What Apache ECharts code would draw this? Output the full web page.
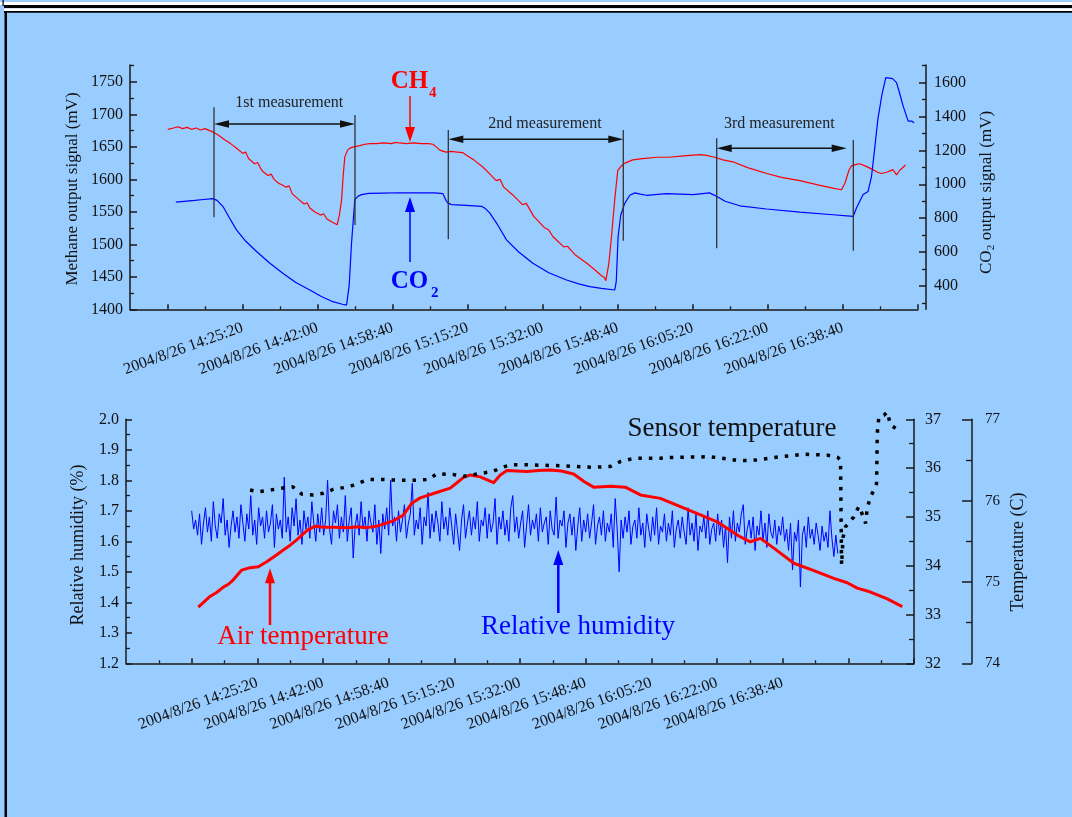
<!DOCTYPE html>
<html><head><meta charset="utf-8">
<script src="https://cdn.jsdelivr.net/npm/echarts@6/dist/echarts.min.js"></script>
<style>html,body{margin:0;padding:0;background:#99ccff;overflow:hidden}#c{width:1072px;height:817px}</style>
</head><body><div id="c"></div>
<script>
// ---------- DATA (time = seconds after 2004/8/26 14:00:00) ----------
const xTickSecs = [1520,2520,3520,4520,5520,6520,7520,8520,9520];
const xTickLabels = ['2004/8/26 14:25:20','2004/8/26 14:42:00','2004/8/26 14:58:40','2004/8/26 15:15:20','2004/8/26 15:32:00','2004/8/26 15:48:40','2004/8/26 16:05:20','2004/8/26 16:22:00','2004/8/26 16:38:40'];
const topMajorSecs = [520,1520,2520,3520,4520,5520,6520,7520,8520,9520,10520];
const topMinorSecs = [1020,2020,3020,4020,5020,6020,7020,8020,9020,10020];
const bottomMajorSecs = [520,1520,2520,3520,4520,5520,6520,7520,8520,9520,10520,11520];
const bottomMinorSecs = [20,1020,2020,3020,4020,5020,6020,7020,8020,9020,10020,11020];

const ch4Ticks = [1400,1450,1500,1550,1600,1650,1700,1750];
const ch4Minor = [1425,1475,1525,1575,1625,1675,1725,1775];
const co2Ticks = [400,600,800,1000,1200,1400,1600];
const co2Minor = [300,500,700,900,1100,1300,1500,1700];
const rhTicks = [1.2,1.3,1.4,1.5,1.6,1.7,1.8,1.9,2.0];
const rhMinor = [1.25,1.35,1.45,1.55,1.65,1.75,1.85,1.95];
const airTicks = [32,33,34,35,36,37];
const airMinor = [32.5,33.5,34.5,35.5,36.5];
const sensorTicks = [74,75,76,77];
const sensorMinor = [74.5,75.5,76.5];

// Methane output signal (mV)
const ch4 = [[524,1677],[600,1679],[660,1681],[720,1678],[780,1680],[840,1677],[900,1679],[960,1676],[1020,1678],[1080,1675],[1124,1673],[1200,1668],[1280,1661],[1360,1655],[1440,1648],[1523,1640],[1560,1642],[1600,1632],[1680,1624],[1720,1626],[1760,1617],[1790,1612],[1860,1606],[1900,1608],[1940,1600],[2000,1594],[2056,1591],[2100,1588],[2140,1590],[2180,1578],[2260,1570],[2340,1562],[2380,1564],[2416,1556],[2480,1550],[2560,1545],[2600,1547],[2643,1539],[2700,1535],[2750,1532],[2780,1530],[2810,1545],[2839,1568],[2860,1605],[2883,1635],[2920,1645],[2950,1648],[3000,1650],[3083,1652],[3150,1654],[3216,1655],[3300,1655],[3400,1656],[3500,1655],[3560,1657],[3615,1656],[3700,1655],[3800,1656],[3900,1655],[4000,1655],[4055,1654],[4100,1650],[4148,1645],[4228,1642],[4300,1643],[4380,1642],[4455,1641],[4520,1636],[4600,1630],[4721,1619],[4800,1610],[4900,1598],[4950,1600],[5000,1588],[5121,1576],[5250,1561],[5300,1563],[5400,1543],[5540,1526],[5600,1522],[5654,1512],[5800,1496],[5850,1497],[5950,1484],[6107,1471],[6200,1462],[6300,1452],[6340,1449],[6360,1444],[6400,1470],[6436,1512],[6480,1570],[6520,1614],[6570,1621],[6614,1625],[6720,1630],[6850,1632],[7040,1634],[7200,1634],[7400,1636],[7613,1638],[7700,1637],[7813,1634],[7920,1630],[8053,1627],[8250,1618],[8506,1609],[8700,1603],[8946,1598],[9200,1591],[9400,1586],[9501,1584],[9546,1594],[9600,1614],[9634,1621],[9700,1623],[9745,1624],[9830,1620],[9918,1615],[9980,1611],[10034,1609],[10100,1611],[10150,1613],[10185,1615],[10234,1607],[10278,1614],[10354,1622]];

// CO2 output signal (mV)
const co2 = [[631,895],[884,905],[1000,910],[1124,915],[1180,905],[1257,870],[1340,805],[1439,731],[1560,665],[1706,603],[1880,535],[2056,475],[2230,420],[2416,376],[2570,338],[2723,307],[2850,292],[2905,287],[2940,400],[2972,653],[3016,909],[3060,930],[3105,939],[3200,946],[3400,948],[3600,950],[3800,949],[4000,950],[4082,949],[4188,945],[4230,905],[4255,890],[4304,880],[4504,875],[4704,870],[4760,855],[4815,830],[4920,760],[5037,672],[5200,600],[5388,534],[5600,478],[5837,435],[6000,412],[6147,396],[6300,386],[6480,376],[6500,430],[6524,692],[6560,820],[6614,889],[6680,935],[6747,949],[6820,942],[6903,935],[7169,945],[7524,939],[7741,949],[7835,929],[7950,900],[8145,873],[8502,854],[8946,836],[9385,820],[9656,810],[9700,860],[9789,939],[9855,958],[9901,1047],[9940,1200],[9985,1383],[10040,1530],[10091,1630],[10181,1624],[10234,1600],[10280,1530],[10322,1461],[10389,1373],[10434,1373],[10469,1363]];

// Relative humidity (%), one reading every rhStepSec starting at rhStartSec
const rhStartSec = 520;
const rhStepSec = 30;
const rhValues = [
1.70,1.64,1.67,1.62,1.69,1.59,1.66,1.71,1.63,1.68,1.60,1.73,1.65,1.61,1.69,1.66,1.74,1.62,1.67,1.58,
1.65,1.70,1.63,1.68,1.61,1.72,1.66,1.60,1.69,1.64,1.75,1.62,1.67,1.59,1.71,1.65,1.68,1.61,1.70,1.63,
1.66,1.72,1.58,1.69,1.64,1.67,1.61,1.81,1.63,1.68,1.60,1.71,1.65,1.74,1.62,1.67,1.59,1.70,1.64,1.68,
1.61,1.73,1.66,1.60,1.69,1.63,1.71,1.62,1.67,1.80,1.64,1.59,1.70,1.66,1.72,1.61,1.68,1.63,1.75,1.60,
1.67,1.71,1.545,1.65,1.69,1.62,1.73,1.64,1.68,1.60,1.70,1.66,1.63,1.72,1.59,1.67,1.56,1.69,1.64,1.71,
1.62,1.80,1.65,1.68,1.60,1.70,1.63,1.67,1.72,1.61,1.66,1.69,1.79,1.62,1.67,1.64,1.71,1.59,1.68,1.65,
1.76,1.61,1.69,1.63,1.70,1.66,1.60,1.73,1.64,1.68,1.62,1.71,1.65,1.59,1.69,1.63,1.57,1.67,1.72,1.61,
1.66,1.70,1.62,1.68,1.64,1.73,1.60,1.67,1.65,1.71,1.61,1.69,1.63,1.66,1.74,1.59,1.68,1.64,1.70,1.62,
1.67,1.60,1.71,1.75,1.63,1.68,1.61,1.66,1.70,1.58,1.65,1.72,1.62,1.67,1.64,1.69,1.60,1.71,1.63,1.66,
1.68,1.59,1.70,1.64,1.62,1.745,1.61,1.67,1.65,1.70,1.58,1.66,1.69,1.62,1.68,1.57,1.65,1.71,1.60,1.67,
1.63,1.69,1.61,1.66,1.72,1.59,1.65,1.68,1.62,1.70,1.60,1.66,1.63,1.69,1.58,1.74,1.64,1.50,1.67,1.61,
1.68,1.63,1.70,1.59,1.65,1.67,1.61,1.71,1.62,1.66,1.58,1.69,1.64,1.60,1.68,1.62,1.71,1.59,1.65,1.63,
1.69,1.60,1.66,1.62,1.70,1.58,1.64,1.67,1.61,1.68,1.63,1.59,1.71,1.62,1.66,1.60,1.69,1.57,1.65,1.63,
1.68,1.61,1.70,1.59,1.64,1.66,1.60,1.69,1.62,1.67,1.58,1.65,1.53,1.68,1.61,1.70,1.60,1.66,1.63,1.69,
1.72,1.59,1.64,1.67,1.61,1.68,1.57,1.65,1.62,1.70,1.60,1.66,1.58,1.69,1.63,1.61,1.67,1.59,1.65,1.62,
1.68,1.60,1.64,1.57,1.66,1.506,1.63,1.60,1.67,1.45,1.62,1.65,1.58,1.68,1.61,1.64,1.59,1.66,1.62,1.57,
1.65,1.60,1.63,1.58,1.70,1.61,1.55,1.62,1.56];

// Air temperature (C), axis 32-37
const airTemp = [[621,33.15],[700,33.25],[799,33.37],[900,33.45],[1002,33.56],[1080,33.62],[1154,33.71],[1282,33.91],[1409,33.96],[1535,33.98],[1663,34.08],[1790,34.20],[1916,34.32],[2020,34.42],[2120,34.53],[2273,34.72],[2399,34.81],[2540,34.79],[2678,34.79],[2900,34.78],[3050,34.80],[3187,34.78],[3340,34.81],[3593,34.92],[3745,35.04],[3873,35.28],[4000,35.39],[4203,35.48],[4457,35.59],[4560,35.70],[4660,35.81],[4762,35.86],[4914,35.82],[5117,35.70],[5220,35.86],[5321,35.95],[5626,35.93],[5800,35.95],[5981,35.96],[6150,35.94],[6336,35.88],[6500,35.72],[6641,35.61],[6896,35.63],[7124,35.61],[7353,35.45],[7658,35.38],[7963,35.21],[8268,35.04],[8522,34.90],[8877,34.59],[9030,34.49],[9182,34.56],[9385,34.36],[9690,34.05],[9995,33.90],[10299,33.74],[10503,33.65],[10656,33.54],[10859,33.46],[11113,33.32],[11342,33.16]];

// Sensor temperature (C), axis 74-77
const sensorTemp = [[1409,76.13],[1535,76.11],[1713,76.13],[1866,76.15],[2059,76.17],[2197,76.08],[2373,76.07],[2526,76.09],[2678,76.14],[2831,76.16],[2983,76.19],[3212,76.26],[3440,76.26],[3695,76.25],[3949,76.25],[4126,76.26],[4254,76.33],[4507,76.32],[4660,76.30],[5112,76.36],[5219,76.40],[5372,76.44],[5626,76.44],[6134,76.43],[6641,76.41],[6896,76.42],[7048,76.48],[7251,76.52],[7658,76.52],[7760,76.53],[8420,76.54],[8775,76.50],[9030,76.49],[9385,76.53],[9842,76.57],[10199,76.56],[10360,76.53],[10401,76.50],[10417,75.21],[10440,75.55],[10478,75.68],[10604,75.80],[10680,75.93],[10760,75.78],[10783,75.72],[10808,75.91],[10859,76.05],[10909,76.13],[10950,76.21],[10961,76.83],[10985,77.03],[11061,77.05],[11113,77.09],[11163,76.93],[11240,76.89]];

// ---------- CHART ----------
const FONT = '"Liberation Serif","Times New Roman",serif';
const AX = '#1a1a1a';
const TXT = '#111111';

const rhData = rhValues.map((v, i) => [rhStartSec + i * rhStepSec, v]);

function xPair(gridIndex, min, max, major, minor, margin) {
  const main = {
    type: 'value', gridIndex, min, max, position: 'bottom',
    axisLine: {show: true, onZero: false, lineStyle: {color: AX, width: 1.5}},
    axisTick: {show: true, inside: true, length: 5, customValues: major, lineStyle: {color: AX, width: 1.5}},
    axisLabel: {show: true, customValues: xTickSecs, rotate: 20, margin, fontSize: 16, fontFamily: FONT, color: TXT,
      formatter: v => { const i = xTickSecs.indexOf(v); return i >= 0 ? xTickLabels[i] : ''; }},
    splitLine: {show: false}
  };
  const mn = {
    type: 'value', gridIndex, min, max, position: 'bottom',
    axisLine: {show: false, onZero: false},
    axisTick: {show: true, inside: true, length: 3, customValues: minor, lineStyle: {color: AX, width: 1.3}},
    axisLabel: {show: false}, splitLine: {show: false}
  };
  return [main, mn];
}

function yPair(gridIndex, pos, offset, min, max, major, minor, majLen, minLen, margin, fontSize, fmt) {
  const main = {
    type: 'value', gridIndex, position: pos, offset, min, max,
    axisLine: {show: true, onZero: false, lineStyle: {color: AX, width: 1.5}},
    axisTick: {show: true, inside: true, length: majLen, customValues: major, lineStyle: {color: AX, width: 1.5}},
    axisLabel: {show: true, customValues: major, margin, fontSize, fontFamily: FONT, color: TXT, formatter: fmt},
    splitLine: {show: false}
  };
  const mn = {
    type: 'value', gridIndex, position: pos, offset, min, max,
    axisLine: {show: false, onZero: false},
    axisTick: {show: true, inside: true, length: minLen, customValues: minor, lineStyle: {color: AX, width: 1.3}},
    axisLabel: {show: false}, splitLine: {show: false}
  };
  return [main, mn];
}

const xAxes = [
  ...xPair(0, 20, 10520, topMajorSecs, topMinorSecs, 18),
  ...xPair(1, -480, 11520, bottomMajorSecs, bottomMinorSecs, 19)
];
const yAxes = [
  ...yPair(0, 'left', 0, 1400, 1776, ch4Ticks, ch4Minor, 7, 4, 7, 16, v => String(v)),
  ...yPair(0, 'right', 8, 262, 1704, co2Ticks, co2Minor, 7, 4, 8, 16, v => String(v)),
  ...yPair(1, 'left', 0, 1.2, 2.0, rhTicks, rhMinor, 6, 4, 7, 16, v => v.toFixed(1)),
  ...yPair(1, 'right', 0, 32, 37, airTicks, airMinor, 8, 5, 11, 16, v => String(v)),
  ...yPair(1, 'right', 58, 74, 77, sensorTicks, sensorMinor, 10, 6, 13, 15, v => String(v))
];

// graphic helpers
function head(tx, ty, dir, len, half, color) {
  let p;
  if (dir === 'left') p = [[tx, ty], [tx + len, ty - half], [tx + len, ty + half]];
  else if (dir === 'right') p = [[tx, ty], [tx - len, ty - half], [tx - len, ty + half]];
  else if (dir === 'up') p = [[tx, ty], [tx - half, ty + len], [tx + half, ty + len]];
  else p = [[tx, ty], [tx - half, ty - len], [tx + half, ty - len]];
  return {type: 'polygon', z: 100, shape: {points: p}, style: {fill: color}};
}
function ln(x1, y1, x2, y2, color, w) {
  return {type: 'line', z: 100, shape: {x1, y1, x2, y2}, style: {stroke: color, lineWidth: w}};
}
function txt(x, y, text, size, color, opts) {
  opts = opts || {};
  return {type: 'text', z: 100, x, y, rotation: opts.rotation || 0,
    style: {text, fill: color, fontSize: size, fontFamily: FONT, fontWeight: opts.bold ? 'bold' : 'normal',
      align: opts.align || 'center', verticalAlign: opts.va || 'middle'}};
}
function dbl(x1, x2, y) {
  return [ln(x1 + 4, y, x2 - 4, y, '#111', 1.5), head(x1, y, 'left', 15, 3.8, '#111'), head(x2, y, 'right', 15, 3.8, '#111')];
}

const graphics = [
  // page frame
  {type: 'rect', z: 100, shape: {x: 0, y: 2, width: 1072, height: 3}, style: {fill: '#ffffff'}},
  {type: 'rect', z: 100, shape: {x: 4, y: 5, width: 1068, height: 3.3}, style: {fill: '#000000'}},
  {type: 'rect', z: 100, shape: {x: 4, y: 8.3, width: 1068, height: 2.7}, style: {fill: '#ffffff'}},
  {type: 'rect', z: 100, shape: {x: 4, y: 11, width: 1068, height: 1.8}, style: {fill: '#000000'}},
  {type: 'rect', z: 100, shape: {x: 2.5, y: 0, width: 1.2, height: 6}, style: {fill: '#000000'}},
  {type: 'rect', z: 100, shape: {x: 4.5, y: 11, width: 2.5, height: 806}, style: {fill: '#000000'}},
  // top: measurement markers
  ln(214, 107.3, 214, 217.3, '#333', 1.3),
  ln(355, 115, 355, 225, '#333', 1.3),
  ln(448.3, 130, 448.3, 239.3, '#333', 1.3),
  ln(623.3, 130, 623.3, 240.7, '#333', 1.3),
  ln(716.7, 138.3, 716.7, 248.3, '#333', 1.3),
  ln(853.3, 140, 853.3, 250.7, '#333', 1.3),
  ...dbl(214, 355, 124),
  ...dbl(448.3, 623.3, 139.3),
  ...dbl(716.7, 846.7, 148.3),
  txt(289.3, 102.7, '1st measurement', 16, '#222'),
  txt(545, 124, '2nd measurement', 16, '#222'),
  txt(779.3, 123.3, '3rd measurement', 16, '#222'),
  // CH4 / CO2 labels and arrows
  txt(390.7, 82, 'CH', 25, '#ff0000', {bold: true, align: 'left'}),
  txt(429, 93, '4', 15, '#ff0000', {bold: true, align: 'left'}),
  ln(410, 96, 410, 128, '#ff0000', 1.5), head(410, 142, 'down', 15, 5, '#ff0000'),
  txt(390.7, 282, 'CO', 25, '#0000ff', {bold: true, align: 'left'}),
  txt(431, 293, '2', 15, '#0000ff', {bold: true, align: 'left'}),
  ln(410, 262, 410, 210, '#0000ff', 1.5), head(410, 197, 'up', 15, 5, '#0000ff'),
  // axis titles
  txt(73, 189, 'Methane output signal (mV)', 17, TXT, {rotation: Math.PI / 2}),
  {type: 'group', x: 987, y: 192, rotation: Math.PI / 2, z: 100, children: [
    {type: 'text', z: 100, x: -82, y: 0, style: {text: 'CO', fill: TXT, fontSize: 17, fontFamily: FONT, align: 'left', verticalAlign: 'middle'}},
    {type: 'text', z: 100, x: -58.3, y: 4.5, style: {text: '2', fill: TXT, fontSize: 11, fontFamily: FONT, align: 'left', verticalAlign: 'middle'}},
    {type: 'text', z: 100, x: -52.5, y: 0, style: {text: ' output signal (mV)', fill: TXT, fontSize: 17, fontFamily: FONT, align: 'left', verticalAlign: 'middle'}}
  ]},
  txt(78, 545, 'Relative humidity (%)', 18, TXT, {rotation: Math.PI / 2}),
  txt(1018, 552, 'Temperature (C)', 18, TXT, {rotation: Math.PI / 2}),
  // bottom labels and arrows
  txt(732, 429, 'Sensor temperature', 27, '#111'),
  txt(303, 636.5, 'Air temperature', 27, '#ff0000'),
  ln(270, 625, 270, 582, '#ff0000', 2.5), head(270, 568.3, 'up', 15, 5, '#ff0000'),
  txt(578, 627, 'Relative humidity', 27, '#0000ff'),
  ln(558.3, 613, 558.3, 563, '#0000ff', 2.5), head(558.3, 550, 'up', 15, 5, '#0000ff')
];

const chart = echarts.init(document.getElementById('c'), null, {renderer: 'canvas'});
chart.setOption({
  backgroundColor: '#99ccff',
  animation: false,
  grid: [
    {left: 130, right: 154, top: 65, bottom: 507.7, outerBoundsMode: 'none', containLabel: false},
    {left: 126, right: 158, top: 419.3, bottom: 153.7, outerBoundsMode: 'none', containLabel: false}
  ],
  xAxis: xAxes,
  yAxis: yAxes,
  series: [
    {name: 'CH4', type: 'line', xAxisIndex: 0, yAxisIndex: 0, data: ch4, showSymbol: false, symbol: 'none',
      lineStyle: {color: '#ff0000', width: 1.2}, itemStyle: {color: '#ff0000'}},
    {name: 'CO2', type: 'line', xAxisIndex: 0, yAxisIndex: 2, data: co2, showSymbol: false, symbol: 'none',
      lineStyle: {color: '#0000ff', width: 1.2}, itemStyle: {color: '#0000ff'}},
    {name: 'Relative humidity', type: 'line', xAxisIndex: 2, yAxisIndex: 4, data: rhData, showSymbol: false, symbol: 'none',
      lineStyle: {color: '#0000ff', width: 1}, itemStyle: {color: '#0000ff'}},
    {name: 'Air temperature', type: 'line', xAxisIndex: 2, yAxisIndex: 6, data: airTemp, showSymbol: false, symbol: 'none',
      lineStyle: {color: '#ff0000', width: 3, join: 'round'}, itemStyle: {color: '#ff0000'}},
    {name: 'Sensor temperature', type: 'line', xAxisIndex: 2, yAxisIndex: 8, data: sensorTemp, showSymbol: false, symbol: 'none', clip: false,
      lineStyle: {color: '#000000', width: 3.5, type: [3.5, 7]}, itemStyle: {color: '#000000'}}
  ],
  graphic: {elements: graphics}
});
</script>
</body></html>
